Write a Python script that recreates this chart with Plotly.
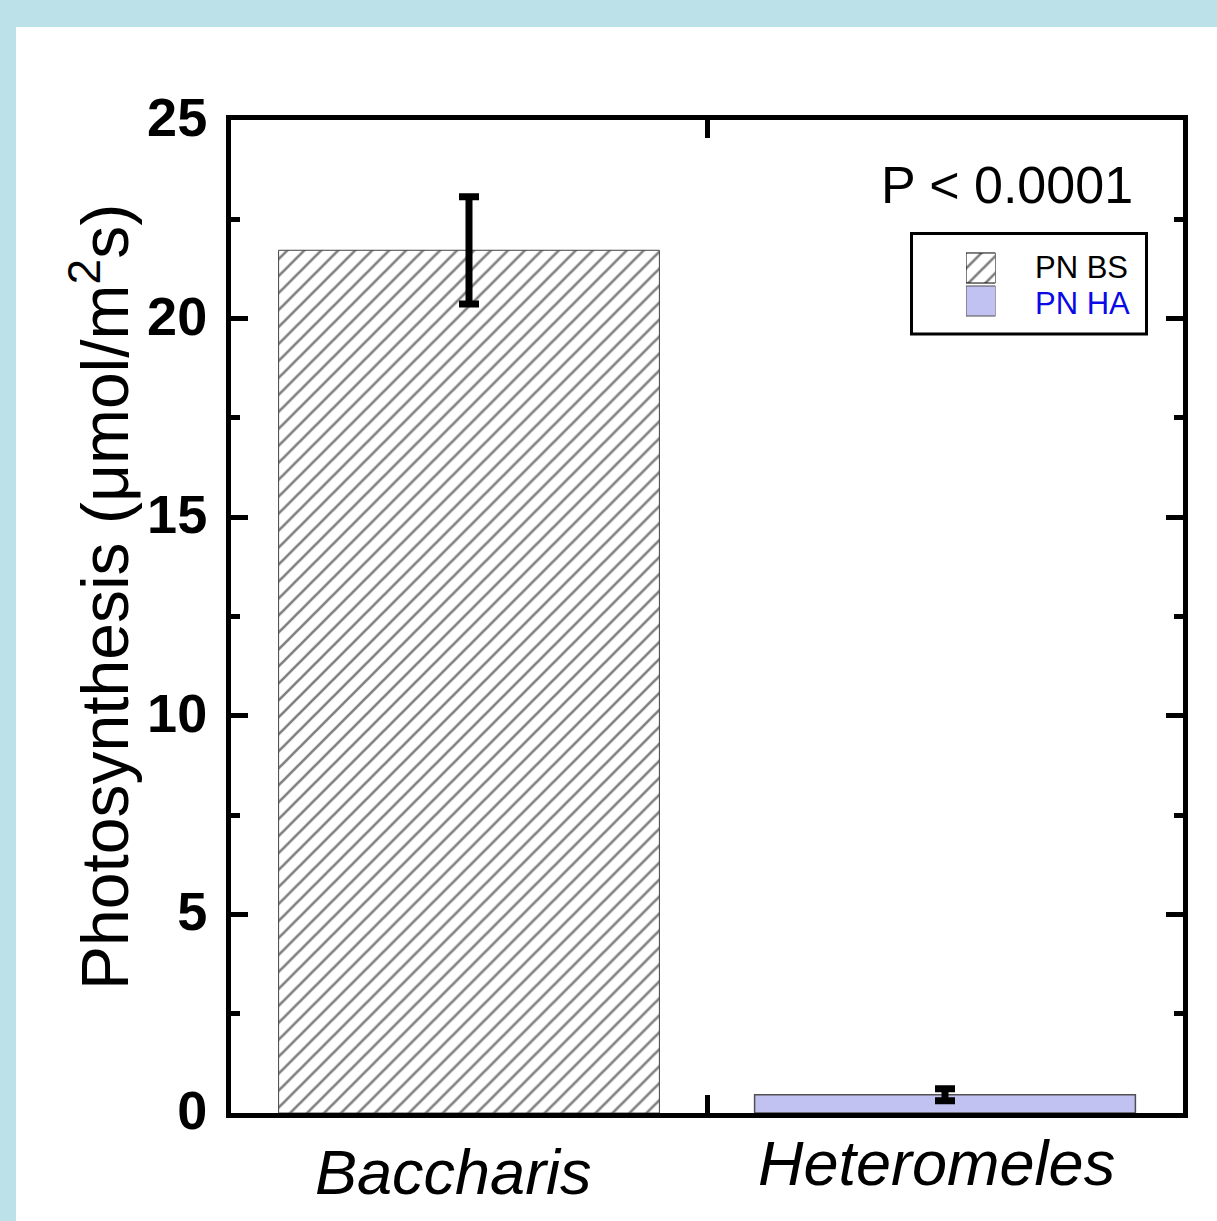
import plotly.graph_objects as go

# Net photosynthesis of the two species (mean and standard error)
species = ["Baccharis", "Heteromeles"]
series_names = ["PN BS", "PN HA"]
pn_mean = [21.72, 0.46]
pn_err = [1.35, 0.15]
y_ticks = [0, 5, 10, 15, 20, 25]

FONT = "Arial, Liberation Sans, sans-serif"
W_FIG, H_FIG = 1217, 1221
L, R, T, B = 231, 34, 120, 108
PW, PH = W_FIG - L - R, H_FIG - T - B


def px(xp):
    return (xp - L) / PW


def py(yp):
    return 1 - (yp - T) / PH


hatch = dict(shape="/", fgcolor="black", bgcolor="white",
             size=12, solidity=0.22, fillmode="overlay")

fig = go.Figure()

# Hatched bar (Baccharis)
fig.add_trace(go.Bar(
    x=[species[0]], y=[pn_mean[0]], width=0.8, name=series_names[0],
    marker=dict(color="white", line=dict(color="#444444", width=1),
                pattern=hatch),
    error_y=dict(type="data", array=[pn_err[0]], color="black",
                 thickness=7, width=10),
    showlegend=False,
))

# Solid lavender bar (Heteromeles)
fig.add_trace(go.Bar(
    x=[species[1]], y=[pn_mean[1]], width=0.8, name=series_names[1],
    marker=dict(color="#c1c1f2", line=dict(color="#505050", width=1.5)),
    error_y=dict(type="data", array=[pn_err[1]], color="black",
                 thickness=7, width=10),
    showlegend=False,
))

# Legend keys drawn on a small inset axis so they share the bar fills
fig.add_trace(go.Bar(
    x=[1], y=[series_names[0]], orientation="h", width=0.91,
    marker=dict(color="white", line=dict(color="black", width=1),
                pattern=hatch),
    xaxis="x2", yaxis="y2", showlegend=False, hoverinfo="skip",
))
fig.add_trace(go.Bar(
    x=[1], y=[series_names[1]], orientation="h", width=0.91,
    marker=dict(color="#c1c1f2", line=dict(color="#505050", width=1)),
    xaxis="x2", yaxis="y2", showlegend=False, hoverinfo="skip",
))

axis_common = dict(showline=True, linewidth=5, linecolor="black",
                   mirror="ticks", ticks="inside", tickwidth=5,
                   tickcolor="black", showgrid=False, zeroline=False)

fig.update_layout(
    width=W_FIG, height=H_FIG,
    margin=dict(l=L, r=R, t=T, b=B, pad=0),
    paper_bgcolor="white", plot_bgcolor="white",
    barmode="overlay",
    font=dict(family=FONT, color="black"),
    xaxis=dict(type="category", categoryorder="array", categoryarray=species,
               range=[-0.5, 1.5], tickson="boundaries", ticklen=18,
               showticklabels=False, **axis_common),
    yaxis=dict(range=[0, 25], tickvals=y_ticks, ticklen=17,
               tickfont=dict(size=54, family=FONT, weight="bold"),
               ticklabelstandoff=8, ticklabelshift=-3,
               minor=dict(dtick=2.5, ticks="inside", ticklen=9, tickwidth=5,
                          tickcolor="black"),
               **axis_common),
    xaxis2=dict(domain=[px(966), px(995.5)], anchor="y2", range=[0, 1],
                visible=False, fixedrange=True),
    yaxis2=dict(domain=[py(317.5), py(251.5)], anchor="x2", type="category",
                categoryorder="array", categoryarray=series_names[::-1],
                range=[-0.5, 1.5], visible=False, fixedrange=True),
)

shapes = [
    # light-blue frame strips
    dict(type="rect", xref="paper", yref="paper", x0=px(0), x1=px(16),
         y0=py(H_FIG), y1=py(0), fillcolor="#bce1e9", line=dict(width=0)),
    dict(type="rect", xref="paper", yref="paper", x0=px(0), x1=px(W_FIG),
         y0=py(27), y1=py(0), fillcolor="#bce1e9", line=dict(width=0)),
    # legend box
    dict(type="rect", xref="paper", yref="paper", x0=px(911.5), x1=px(1146.5),
         y0=py(334), y1=py(233.5), line=dict(color="black", width=3),
         fillcolor="rgba(0,0,0,0)"),
]
fig.update_layout(shapes=shapes)

annotations = [
    dict(text="Photosynthesis (\u03bcmol/m<sup>2</sup>s)", textangle=-90,
         xref="paper", yref="paper", x=px(100), y=py(597),
         xanchor="center", yanchor="middle", showarrow=False,
         font=dict(size=66, family=FONT)),
    dict(text="P < 0.0001", xref="paper", yref="paper", x=px(1135), y=py(185),
         xanchor="right", yanchor="middle", showarrow=False,
         font=dict(size=52, family=FONT)),
    dict(text=series_names[0], xref="paper", yref="paper", x=px(1033), y=py(267),
         xanchor="left", yanchor="middle", showarrow=False,
         font=dict(size=31, family=FONT, color="black")),
    dict(text=series_names[1], xref="paper", yref="paper", x=px(1033), y=py(303),
         xanchor="left", yanchor="middle", showarrow=False,
         font=dict(size=31, family=FONT, color="#0a0ae6")),
    dict(text=species[0], xref="x", yref="paper", x=species[0], y=py(1172),
         xshift=-16, xanchor="center", yanchor="middle", showarrow=False,
         font=dict(size=63, family=FONT, style="italic")),
    dict(text=species[1], xref="x", yref="paper", x=species[1], y=py(1163),
         xshift=-9, xanchor="center", yanchor="middle", showarrow=False,
         font=dict(size=63, family=FONT, style="italic")),
]
fig.update_layout(annotations=annotations)

fig.write_html("out.html")
